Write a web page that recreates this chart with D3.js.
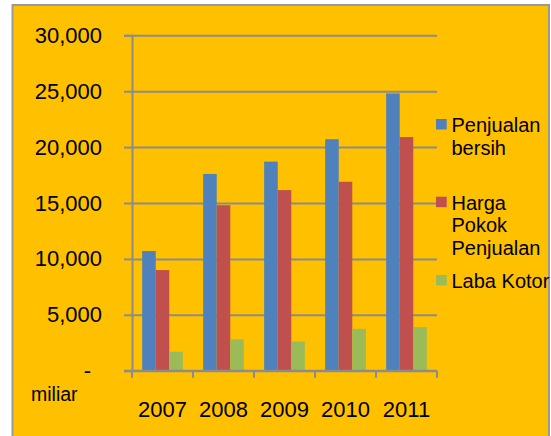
<!DOCTYPE html>
<html>
<head>
<meta charset="utf-8">
<script src="https://cdn.jsdelivr.net/npm/d3@7"></script>
<style>
  body { margin: 0; background: #fff; }
  svg { display: block; font-family: "Liberation Sans", Arial, sans-serif; }
</style>
</head>
<body>
<div id="chart"></div>
<script>
const years = ["2007", "2008", "2009", "2010", "2011"];
const seriesNames = ["Penjualan bersih", "Harga Pokok Penjualan", "Laba Kotor"];
const penjualanBersih = [10700, 17600, 18700, 20700, 24800];
const hargaPokok = [9000, 14800, 16150, 16900, 20900];
const labaKotor = [1700, 2800, 2600, 3750, 3900];
const yTicks = [0, 5000, 10000, 15000, 20000, 25000, 30000];
const legendLines = [["Penjualan", "bersih"], ["Harga", "Pokok", "Penjualan"], ["Laba Kotor"]];

const colors = ["#4F81BD", "#C0504D", "#9BBB59"];
const seriesValues = [penjualanBersih, hargaPokok, labaKotor];

const width = 551, height = 436;
const plotLeft = 132, plotRight = 437, plotTop = 35.3, plotBottom = 370.7;
const gridColor = "#8c8c8c";

const svg = d3.select("#chart")
    .append("svg")
    .attr("width", width)
    .attr("height", height);

//chart area background with grey border
svg.append("rect")
    .attr("x", 12.5)
    .attr("y", 5)
    .attr("width", 536.5)
    .attr("height", height + 10)
    .attr("fill", "#FFC000")
    .attr("stroke", "#999")
    .attr("stroke-width", 2);

const x0 = d3.scaleBand()
    .domain(years)
    .range([plotLeft, plotRight])
    .paddingInner(0)
    .paddingOuter(0);

const x1 = d3.scaleBand()
    .domain(d3.range(seriesNames.length))
    .range([0, x0.bandwidth()])
    .paddingInner(0)
    .paddingOuter(0.75);

const y = d3.scaleLinear()
    .domain([0, 30000])
    .range([plotBottom, plotTop]);

//gridlines
svg.append("g")
    .attr("transform", `translate(${plotLeft},0)`)
    .call(d3.axisLeft(y).tickValues(yTicks).tickSize(-(plotRight - plotLeft)).tickFormat(""))
    .call(g => g.select(".domain").remove())
    .call(g => g.selectAll("line").attr("stroke", gridColor).attr("stroke-width", 2));

const yAxis = svg.append("g")
    .attr("transform", `translate(${plotLeft},0)`)
    .call(d3.axisLeft(y)
        .tickValues(yTicks)
        .tickSize(8)
        .tickPadding(22)
        .tickFormat(d => d === 0 ? "-" : d3.format(",")(d)));

yAxis.select(".domain").attr("stroke", gridColor).attr("stroke-width", 2);
yAxis.selectAll("line").attr("stroke", gridColor).attr("stroke-width", 2);
yAxis.selectAll("text")
    .attr("font-size", 22)
    .attr("font-family", "Liberation Sans, Arial, sans-serif")
    .attr("fill", "#000")
    .attr("dx", d => d === 0 ? -11 : 0);

//bars
const groups = svg.append("g")
    .selectAll("g")
    .data(years)
    .enter()
    .append("g")
    .attr("transform", d => `translate(${x0(d)},0)`);

groups.selectAll("rect")
    .data((d, i) => seriesValues.map((s, k) => ({ k: k, v: s[i] })))
    .enter()
    .append("rect")
    .attr("x", d => x1(d.k))
    .attr("width", x1.bandwidth())
    .attr("y", d => y(d.v))
    .attr("height", d => plotBottom - y(d.v))
    .attr("fill", d => colors[d.k]);

//x axis: line, boundary ticks, labels
const xAxis = svg.append("g")
    .attr("transform", `translate(0,${plotBottom})`)
    .call(d3.axisBottom(x0).tickSize(0).tickPadding(31));

xAxis.select(".domain").remove();
xAxis.selectAll("text")
    .attr("font-size", 22)
    .attr("font-family", "Liberation Sans, Arial, sans-serif")
    .attr("fill", "#000");

svg.append("line")
    .attr("x1", plotLeft - 8)
    .attr("x2", plotRight)
    .attr("y1", plotBottom)
    .attr("y2", plotBottom)
    .attr("stroke", gridColor)
    .attr("stroke-width", 2);

svg.append("g")
    .selectAll("line")
    .data(years.map(d => x0(d)).concat([plotRight]))
    .enter()
    .append("line")
    .attr("x1", d => d)
    .attr("x2", d => d)
    .attr("y1", plotBottom)
    .attr("y2", plotBottom + 7)
    .attr("stroke", gridColor)
    .attr("stroke-width", 2);

svg.append("text")
    .attr("x", 31)
    .attr("y", 400.5)
    .attr("font-size", 19.5)
    .text("miliar");

//legend
const legendTops = [119, 196.7, 275];
const legend = svg.append("g")
    .selectAll("g")
    .data(seriesNames)
    .enter()
    .append("g")
    .attr("transform", (d, i) => `translate(436,${legendTops[i]})`);

legend.append("rect")
    .attr("width", 10.7)
    .attr("height", 10.5)
    .attr("fill", (d, i) => colors[i]);

legend.append("text")
    .attr("font-size", 20)
    .attr("fill", "#000")
    .selectAll("tspan")
    .data((d, i) => legendLines[i])
    .enter()
    .append("tspan")
    .attr("x", 15.5)
    .attr("y", (d, j) => 12.8 + j * 22.7)
    .text(d => d);
</script>
</body>
</html>
